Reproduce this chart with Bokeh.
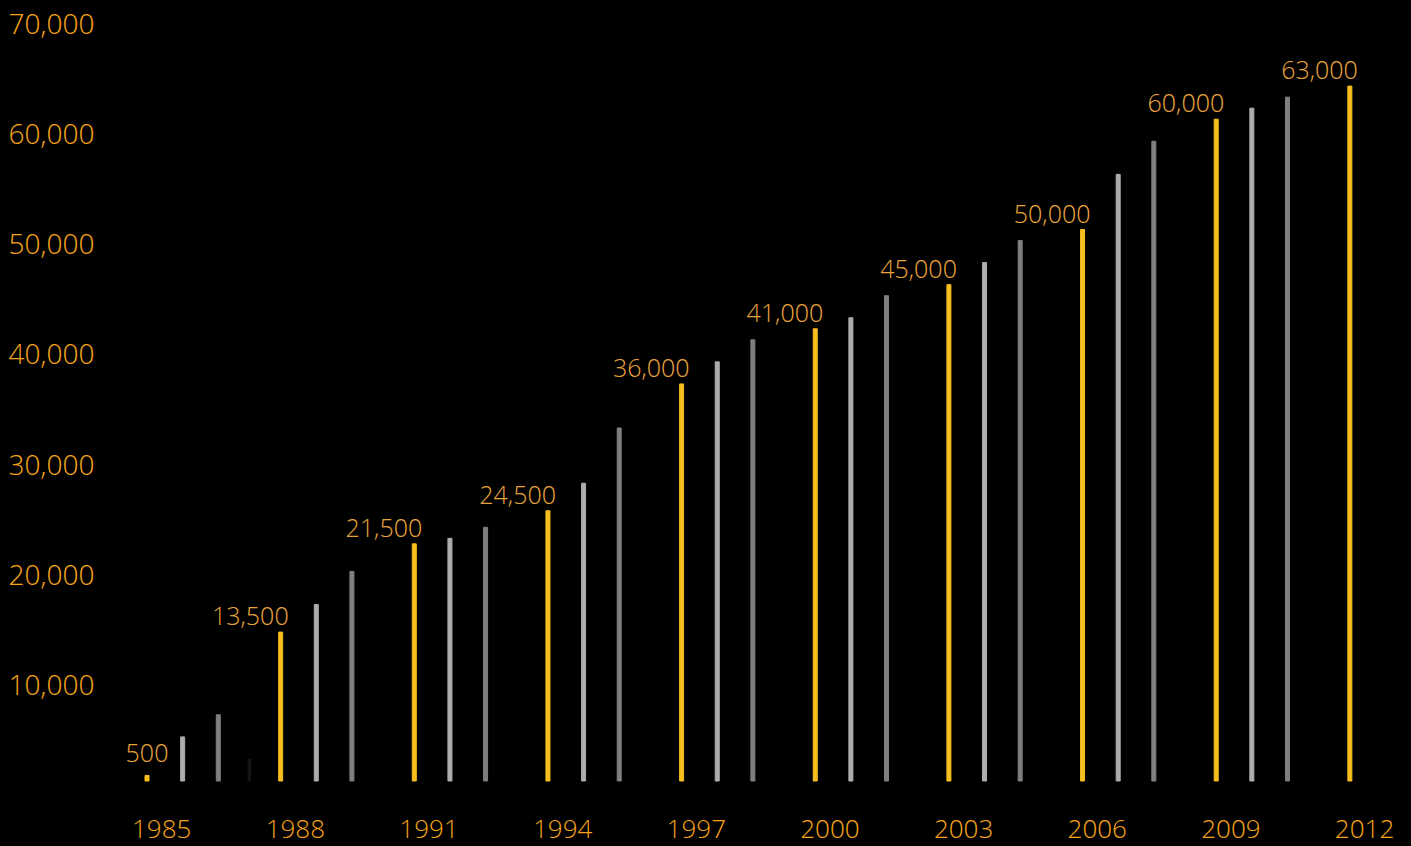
from bokeh.plotting import figure
from bokeh.models import (ColumnDataSource, FixedTicker, NumeralTickFormatter,
                          Range1d, LinearAxis)
from bokeh.core.properties import value
from bokeh.embed import file_html
from bokeh.resources import INLINE

# ---- data ----
group_years = [1985, 1988, 1991, 1994, 1997, 2000, 2003, 2006, 2009, 2012]
yellow_values = [500, 13500, 21500, 24500, 36000, 41000, 45000, 50000, 60000, 63000]
light_values = [4000, 16000, 22000, 27000, 38000, 42000, 47000, 55000, 61000]
dark_values = [6000, 19000, 23000, 32000, 40000, 44000, 49000, 58000, 62000]
faint_values = [2000]          # near-black bar in the first group
y_ticks = [10000, 20000, 30000, 40000, 50000, 60000, 70000]

# ---- layout / style constants ----
W, H = 1411, 846
BORDER_LEFT = 100
BORDER_BOTTOM = 60
OFFSET = -0.33     # yellow bar offset from its year tick (years)
SLOT = 0.8         # spacing of bars inside a group (years)
FAINT_SLOT = 2.87
BAR_W = 0.09
FONT_NAME = "Open Sans Light, Open Sans"
FONT = value(FONT_NAME)
YELLOW = "#F6BE1E"
LIGHT = "#ADADAD"
DARK = "#7F7F7F"
FAINT = "#171414"
AXIS_TXT = "#F5A31A"
LBL_TXT = "#E8A33D"

def xpos(years, slot):
    return [y + OFFSET + slot * SLOT for y in years]

n = len(yellow_values)
yellow = ColumnDataSource(dict(
    x=xpos(group_years, 0), top=yellow_values,
    label=[f"{v:,}" for v in yellow_values],
    # the first (tiny) label is centred over its bar, the others end at the bar
    align=["center" if i == 0 else "right" for i in range(n)],
    dx=[0 if i == 0 else 8 for i in range(n)],
    dy=[-22 if i == 0 else -16 for i in range(n)],
))
light = ColumnDataSource(dict(x=xpos(group_years[:len(light_values)], 1), top=light_values))
dark = ColumnDataSource(dict(x=xpos(group_years[:len(dark_values)], 2), top=dark_values))
faint = ColumnDataSource(dict(x=xpos(group_years[:1], FAINT_SLOT), top=faint_values))

# ranges derived from the pixel layout
PX_YEAR = 44.55
x_start = 1985 - (161.2 - BORDER_LEFT) / PX_YEAR
x_end = x_start + (W - BORDER_LEFT) / PX_YEAR
PX_UNIT = 11.03 / 1000
BASE_Y = 780.5                      # pixel row of value 0
frame_bottom = H - BORDER_BOTTOM
y_start = -(frame_bottom - BASE_Y) / PX_UNIT
y_end = BASE_Y / PX_UNIT
LABEL_SHIFT = 14.6 / PX_UNIT        # tick labels sit a little below their values

p = figure(width=W, height=H, output_backend="svg", toolbar_location=None,
           x_range=Range1d(x_start, x_end), y_range=Range1d(y_start, y_end),
           background_fill_color="black", border_fill_color="black",
           min_border_left=BORDER_LEFT, min_border_right=0,
           min_border_top=0, min_border_bottom=BORDER_BOTTOM,
           y_axis_location=None)
p.styles = {"background-color": "black"}
p.outline_line_color = None
p.grid.visible = False
p.extra_y_ranges = {"labels": Range1d(y_start + LABEL_SHIFT, y_end + LABEL_SHIFT)}

p.vbar(x="x", top="top", width=BAR_W, bottom=0, source=yellow, color=YELLOW)
p.vbar(x="x", top="top", width=BAR_W, bottom=0, source=light, color=LIGHT)
p.vbar(x="x", top="top", width=BAR_W, bottom=0, source=dark, color=DARK)
p.vbar(x="x", top="top", width=BAR_W * 0.6, bottom=0, source=faint, color=FAINT)

p.text(x="x", y="top", text="label", source=yellow, text_align="align",
       text_baseline="alphabetic", x_offset="dx", y_offset="dy",
       text_font=FONT, text_font_size="25px", text_color=LBL_TXT)

yaxis = LinearAxis(y_range_name="labels",
                   ticker=FixedTicker(ticks=y_ticks),
                   formatter=NumeralTickFormatter(format="0,0"))
p.add_layout(yaxis, "left")

for ax in (p.xaxis[0], yaxis):
    ax.axis_line_color = None
    ax.major_tick_line_color = None
    ax.minor_tick_line_color = None
    ax.major_label_text_font = FONT_NAME
    ax.major_label_text_color = AXIS_TXT

p.xaxis.ticker = FixedTicker(ticks=group_years)
p.xaxis.major_label_text_font_size = "26px"
p.xaxis.major_label_standoff = 27

yaxis.major_label_text_font_size = "28px"
yaxis.major_label_standoff = 0

open("out.html", "w").write(file_html(p, INLINE))
